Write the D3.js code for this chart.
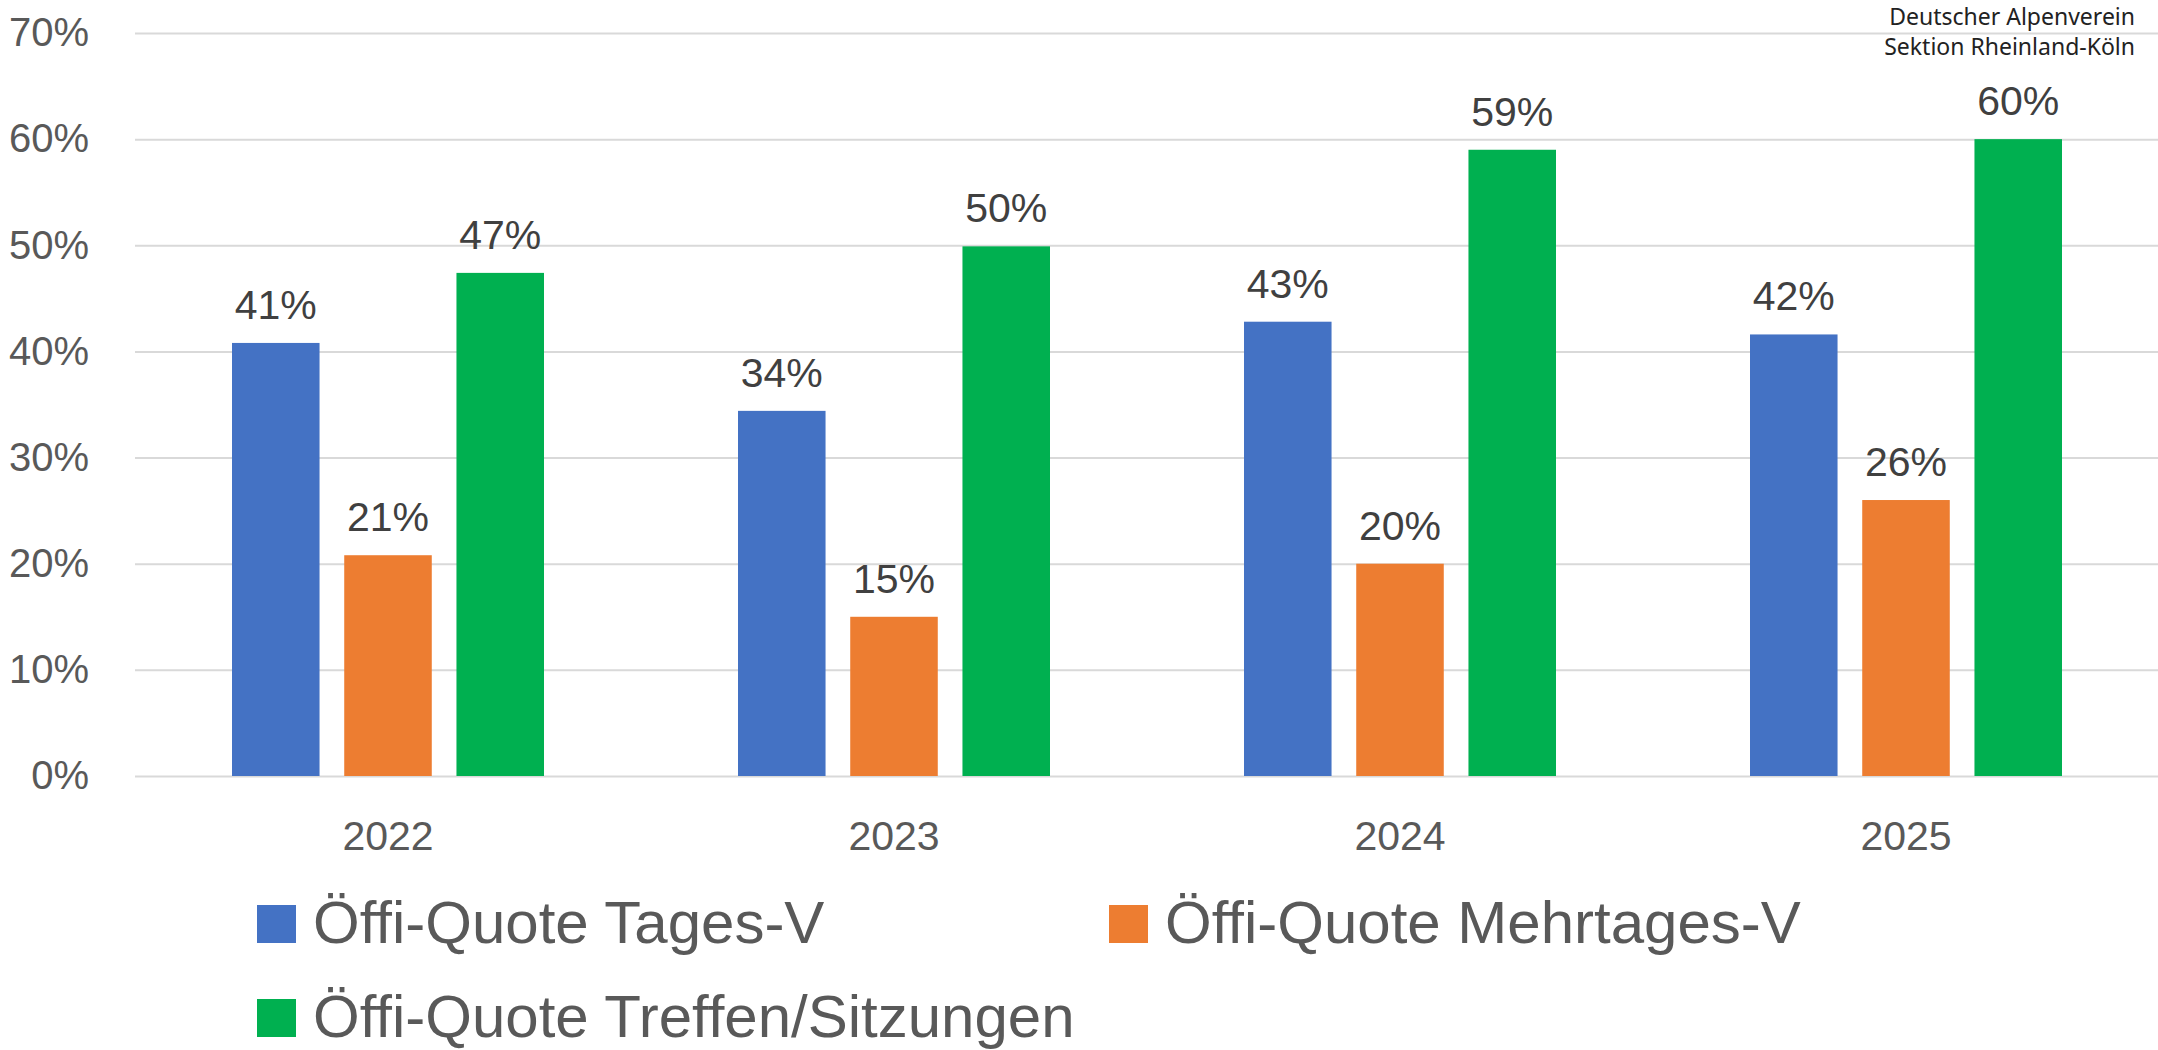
<!DOCTYPE html>
<html>
<head>
<meta charset="utf-8">
<title>Öffi-Quote</title>
<script src="https://cdn.jsdelivr.net/npm/d3@7"></script>
<style>
  body { margin: 0; background: #fff; }
  svg { display: block; font-family: "Liberation Sans", Arial, sans-serif; }
  .grid line { stroke: #d9d9d9; stroke-width: 2; }
  .grid path { display: none; }
  .grid text { fill: #595959; font-size: 40px; }
  .year { fill: #595959; font-size: 41px; }
  .val { fill: #404040; font-size: 41px; }
  .leg { fill: #595959; font-size: 60px; }
  .mark { fill: #222; font-family: "Noto Sans", "Open Sans", sans-serif; font-size: 23px; }
</style>
</head>
<body>
<script>
var years = ["2022", "2023", "2024", "2025"];
var series = ["Öffi-Quote Tages-V", "Öffi-Quote Mehrtages-V", "Öffi-Quote Treffen/Sitzungen"];
var tages = [40.8, 34.4, 42.8, 41.6];
var mehrtages = [20.8, 15.0, 20.0, 26.0];
var treffen = [47.4, 49.9, 59.0, 60.0];
var yTicks = [0, 10, 20, 30, 40, 50, 60, 70];
var colors = ["#4472c4", "#ed7d31", "#00b050"];

var w = 2158, h = 1050;
var plotLeft = 135, plotRight = 2159, plotTop = 33, plotBottom = 776;

var values = [tages, mehrtages, treffen];
var data = [];
years.forEach(function (yr, i) {
  values.forEach(function (v, s) {
    data.push({year: yr, s: s, value: v[i]});
  });
});

var svg = d3.select("body").append("svg")
  .attr("width", w)
  .attr("height", h);

var x0 = d3.scaleBand().domain(years).range([plotLeft, plotRight]);
var x1 = d3.scaleBand().domain(d3.range(series.length))
  .range([97, x0.bandwidth() - 97])
  .paddingInner(0.22);
var y = d3.scaleLinear().domain([0, 70]).range([plotBottom, plotTop]);

// gridlines + y labels
svg.append("g")
  .attr("class", "grid")
  .attr("transform", "translate(" + plotLeft + ",0)")
  .call(d3.axisLeft(y)
    .tickValues(yTicks)
    .tickSize(-(w - plotLeft))
    .tickPadding(46)
    .tickFormat(function (d) { return d + "%"; }));

// bars
svg.append("g").selectAll("rect")
  .data(data)
  .join("rect")
    .attr("x", function (d) { return x0(d.year) + x1(d.s); })
    .attr("y", function (d) { return y(d.value); })
    .attr("width", x1.bandwidth())
    .attr("height", function (d) { return y(0) - y(d.value); })
    .attr("fill", function (d) { return colors[d.s]; });

// value labels
svg.append("g").selectAll("text")
  .data(data)
  .join("text")
    .attr("class", "val")
    .attr("x", function (d) { return x0(d.year) + x1(d.s) + x1.bandwidth() / 2; })
    .attr("y", function (d) { return y(d.value) - 24; })
    .attr("text-anchor", "middle")
    .text(function (d) { return Math.round(d.value) + "%"; });

// year labels
svg.append("g").selectAll("text")
  .data(years)
  .join("text")
    .attr("class", "year")
    .attr("x", function (d) { return x0(d) + x0.bandwidth() / 2; })
    .attr("y", plotBottom + 74)
    .attr("text-anchor", "middle")
    .text(function (d) { return d; });

// legend
var legPos = [[257, 943], [1109, 943], [257, 1037]];
var leg = svg.append("g").selectAll("g")
  .data(series)
  .join("g")
    .attr("transform", function (d, i) { return "translate(" + legPos[i] + ")"; });
leg.append("rect")
  .attr("x", 0)
  .attr("y", -38)
  .attr("width", 39)
  .attr("height", 38)
  .attr("fill", function (d, i) { return colors[i]; });
leg.append("text")
  .attr("class", "leg")
  .attr("x", 56)
  .attr("y", 0)
  .text(function (d) { return d; });

// watermark
var mark = svg.append("g").attr("class", "mark");
mark.append("text").attr("x", 2135).attr("y", 25).attr("text-anchor", "end").text("Deutscher Alpenverein");
mark.append("text").attr("x", 2135).attr("y", 55).attr("text-anchor", "end").text("Sektion Rheinland-Köln");
</script>
</body>
</html>
